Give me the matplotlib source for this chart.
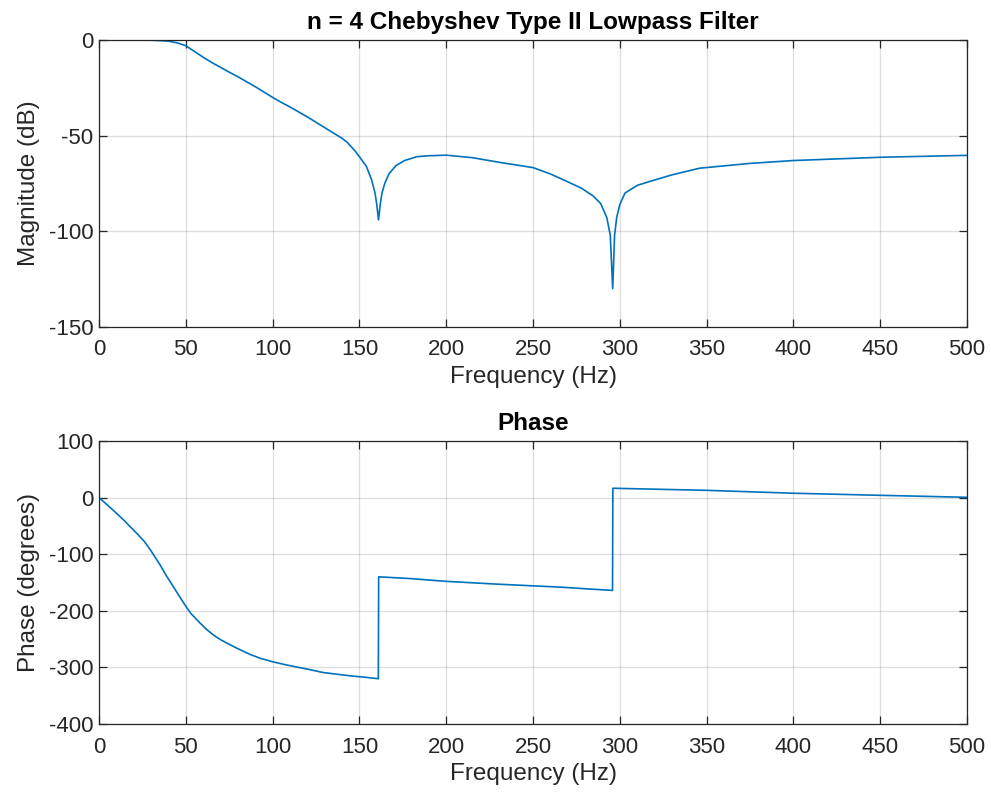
import matplotlib
matplotlib.use("Agg")
import matplotlib.pyplot as plt

# Magnitude response (Hz, dB)
mag_freq = [0, 10, 20, 30, 35, 40, 45, 50, 55, 60, 65, 70, 75, 80, 85, 90,
            95, 100, 105, 110, 115, 120, 125, 130, 135, 140, 143, 147.5, 150,
            154, 157, 159, 160, 161, 162, 163, 164.6, 167, 171, 176, 183, 190,
            200, 215, 231, 250, 260, 269, 278, 284.6, 289, 292.5, 294.5,
            295.9, 297, 298.2, 300, 303, 310, 317, 330, 346, 375, 400, 450,
            500]
mag_db = [0, 0, 0, -0.1, -0.3, -0.6, -1.5, -3.0, -6.0, -9.0, -11.8, -14.3,
          -16.8, -19.2, -21.8, -24.4, -27.2, -30, -32.6, -35, -37.6, -40.2,
          -43, -45.8, -48.6, -51.4, -53.5, -58, -61, -66, -73, -80, -86, -94,
          -86, -80, -75, -70, -65.7, -63, -61, -60.5, -60.2, -61.5, -64,
          -66.7, -70, -73.7, -77.5, -81.5, -85.5, -92.8, -102, -130, -102,
          -92.8, -86, -80, -76, -74, -70.5, -67, -64.5, -63, -61.3, -60.3]

# Phase response (Hz, degrees)
ph_freq = [0, 7, 14, 22, 26, 29.4, 35, 39, 45, 50, 53, 58, 62, 66, 70, 75.5,
           80, 87, 93, 100, 107, 115, 120, 129, 137, 145, 152, 160.9, 161.1,
           179, 200, 230, 264.5, 280, 295.8, 296, 325, 350, 400, 450, 500]
ph_deg = [0, -19, -39, -64, -77, -91.5, -118, -139, -168, -192, -205, -221,
          -233, -243, -251, -260, -267, -277, -284, -290, -295, -300, -303,
          -309, -312, -315, -317, -320, -140, -143, -148, -153, -158, -161,
          -164, 16.5, 14.5, 12.8, 7.7, 4, 0.5]

plt.rcParams["font.family"] = ["Liberation Sans", "DejaVu Sans"]
plt.rcParams["axes.unicode_minus"] = False

AX_COLOR = "#262626"
LINE_COLOR = "#0072BD"

fig = plt.figure(figsize=(9.91, 7.95), dpi=100)
ax1 = fig.add_axes([0.0999, 0.5887, 0.8759, 0.361])
ax2 = fig.add_axes([0.0999, 0.0893, 0.8759, 0.356])


def style(ax):
    for s in ax.spines.values():
        s.set_color(AX_COLOR)
        s.set_linewidth(0.9)
    ax.tick_params(direction="in", length=6, width=0.9, colors=AX_COLOR,
                   top=True, right=True, labelsize=16)
    ax.tick_params(axis="x", pad=9)
    ax.tick_params(axis="y", pad=4)
    ax.grid(True, color=AX_COLOR, alpha=0.15, linewidth=0.9)
    ax.set_axisbelow(True)


ax1.plot(mag_freq, mag_db, color=LINE_COLOR, linewidth=1.2)
ax1.set_xlim(0, 500)
ax1.set_ylim(-150, 0)
ax1.set_xticks(range(0, 501, 50))
ax1.set_yticks([-150, -100, -50, 0])
ax1.set_xlabel("Frequency (Hz)", color=AX_COLOR, fontsize=17.5, labelpad=4)
ax1.set_ylabel("Magnitude (dB)", color=AX_COLOR, fontsize=17.5, labelpad=6)
ax1.set_title("n = 4 Chebyshev Type II Lowpass Filter", fontweight="bold",
              fontsize=17.5, pad=8)
style(ax1)

ax2.plot(ph_freq, ph_deg, color=LINE_COLOR, linewidth=1.2)
ax2.set_xlim(0, 500)
ax2.set_ylim(-400, 100)
ax2.set_xticks(range(0, 501, 50))
ax2.set_yticks(range(-400, 101, 100))
ax2.set_xlabel("Frequency (Hz)", color=AX_COLOR, fontsize=17.5, labelpad=4)
ax2.set_ylabel("Phase (degrees)", color=AX_COLOR, fontsize=17.5, labelpad=6)
ax2.set_title("Phase", fontweight="bold", fontsize=17.5, pad=8)
style(ax2)

fig.savefig("out.png", dpi=100)
